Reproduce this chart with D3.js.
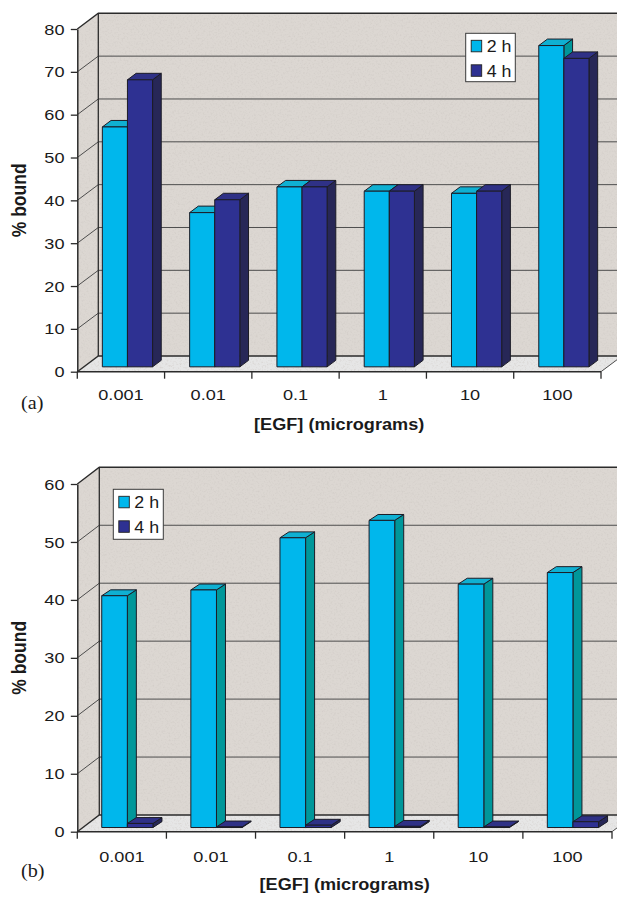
<!DOCTYPE html>
<html>
<head>
<meta charset="utf-8">
<script src="https://cdn.jsdelivr.net/npm/d3@7"></script>
<style>
  html, body { margin: 0; padding: 0; background: #ffffff; }
  svg { display: block; }
</style>
</head>
<body>
<script>
// EGF binding, percent bound at two incubation times
const categories = ["0.001", "0.01", "0.1", "1", "10", "100"];
const seriesNames = ["2 h", "4 h"];

// panel (a)
const boundA2h = [56, 36, 42, 41, 40.5, 75];
const boundA4h = [67, 39, 42, 41, 41, 72];
const ticksA = [0, 10, 20, 30, 40, 50, 60, 70, 80];

// panel (b)
const boundB2h = [40, 41, 50, 53, 42, 44];
const boundB4h = [0.7, 0.1, 0.4, 0.2, 0.1, 1.0];
const ticksB = [0, 10, 20, 30, 40, 50, 60];

const xTitle = "[EGF] (micrograms)";
const yTitle = "% bound";

const W = 617, H = 897;
const SANS = "'Liberation Sans', Arial, Helvetica, sans-serif";
const SERIF = "'Liberation Serif', 'Times New Roman', serif";
const STRETCH = 1.17;

const colors = {
  s2: { front: "#00b7ec", top: "#0fb0d2", side: "#00979a" },
  s4: { front: "#2e3192", top: "#2f3186", side: "#272757" },
  wall: "#dcd7d2",
  floor: "#e6e6e6",
  grid: "#4d4d4d",
  axis: "#2b2b2b",
  edge: "#1c1c26"
};

const svg = d3.select("body").append("svg")
  .attr("width", W).attr("height", H)
  .attr("viewBox", `0 0 ${W} ${H}`);

// paper-like grain for the chart walls
const defs = svg.append("defs");
const grain = defs.append("filter").attr("id", "grain")
  .attr("x", 0).attr("y", 0).attr("width", 1).attr("height", 1);
grain.append("feTurbulence").attr("type", "fractalNoise")
  .attr("baseFrequency", 0.55).attr("numOctaves", 2).attr("seed", 7).attr("result", "noise");
grain.append("feColorMatrix").attr("in", "noise").attr("type", "matrix")
  .attr("values", "0 0 0 0 0.62  0 0 0 0 0.58  0 0 0 0 0.55  1.6 0 0 0 -0.78")
  .attr("result", "spots");
grain.append("feComposite").attr("in", "spots").attr("in2", "SourceGraphic")
  .attr("operator", "in").attr("result", "clipped");
const merge = grain.append("feMerge");
merge.append("feMergeNode").attr("in", "SourceGraphic");
merge.append("feMergeNode").attr("in", "clipped");

function stretchedText(g, x, y, str, opts) {
  const t = g.append("text")
    .attr("transform", `translate(${x},${y}) scale(${opts.sx || STRETCH},1)${opts.rotate ? " rotate(" + opts.rotate + ")" : ""}`)
    .attr("font-family", opts.family || SANS)
    .attr("font-size", opts.size)
    .attr("font-weight", opts.weight || "normal")
    .attr("fill", "#1a1a1a")
    .attr("text-anchor", opts.anchor || "start")
    .text(str);
  if (opts.dy) t.attr("dy", opts.dy);
  return t;
}

const panels = [
  {
    v2: boundA2h, v4: boundA4h, ticks: ticksA, max: 80,
    x0: 77.3, x1: 601, yZero: 371.7, yTop: 29,
    dx: 21, dy: 15.7, f0: 0.31, bdx: 8.7, bdy: 6.5,
    legend: { x: 465.7, y: 33.3, w: 49.6, h: 48.4 },
    labelBase: 400, titleBase: 429.5, tag: "(a)", tagBase: 408.5
  },
  {
    v2: boundB2h, v4: boundB4h, ticks: ticksB, max: 60,
    x0: 77.3, x1: 612, yZero: 831.7, yTop: 484,
    dx: 22, dy: 16.7, f0: 0.25, bdx: 9, bdy: 5.9,
    legend: { x: 113.3, y: 489.3, w: 50, h: 50 },
    labelBase: 862, titleBase: 889.5, tag: "(b)", tagBase: 876.5
  }
];

panels.forEach(p => {
  const g = svg.append("g");
  const y = d3.scaleLinear().domain([0, p.max]).range([p.yZero, p.yTop]);
  const x = d3.scaleBand().domain(categories).range([p.x0, p.x1]).paddingInner(0).paddingOuter(0);
  const xRight = p.x1 + p.dx + 40;

  // back wall
  g.append("path")
    .attr("d", `M${p.x0 + p.dx},${p.yTop - p.dy} L${xRight},${p.yTop - p.dy} L${xRight},${p.yZero - p.dy} L${p.x0 + p.dx},${p.yZero - p.dy} Z`)
    .attr("fill", colors.wall).attr("filter", "url(#grain)");
  // left side wall
  g.append("path")
    .attr("d", `M${p.x0},${p.yZero} L${p.x0},${p.yTop} L${p.x0 + p.dx},${p.yTop - p.dy} L${p.x0 + p.dx},${p.yZero - p.dy} Z`)
    .attr("fill", colors.wall).attr("filter", "url(#grain)");
  // floor
  g.append("path")
    .attr("d", `M${p.x0},${p.yZero} L${p.x1},${p.yZero} L${p.x1 + p.dx},${p.yZero - p.dy} L${p.x0 + p.dx},${p.yZero - p.dy} Z`)
    .attr("fill", colors.floor).attr("filter", "url(#grain)");

  // gridlines: diagonal on side wall, horizontal on back wall
  p.ticks.forEach(t => {
    const yy = y(t);
    g.append("path")
      .attr("d", `M${p.x0},${yy} L${p.x0 + p.dx},${yy - p.dy} L${xRight},${yy - p.dy}`)
      .attr("fill", "none")
      .attr("stroke", t === 0 || t === p.max ? colors.axis : colors.grid)
      .attr("stroke-width", t === 0 || t === p.max ? 1.4 : 1);
  });
  // wall corner edge
  g.append("line")
    .attr("x1", p.x0 + p.dx).attr("x2", p.x0 + p.dx)
    .attr("y1", p.yTop - p.dy).attr("y2", p.yZero - p.dy)
    .attr("stroke", colors.axis).attr("stroke-width", 1.3);
  // floor right edge
  g.append("line")
    .attr("x1", p.x1).attr("y1", p.yZero)
    .attr("x2", p.x1 + p.dx).attr("y2", p.yZero - p.dy)
    .attr("stroke", colors.grid).attr("stroke-width", 1);

  // value axis (front edge of side wall)
  const yAxis = d3.axisLeft(y).tickValues(p.ticks).tickSize(6.5).tickSizeOuter(0).tickFormat("");
  const ya = g.append("g").attr("transform", `translate(${p.x0},0)`).call(yAxis);
  ya.select(".domain").attr("stroke", colors.axis).attr("stroke-width", 1.5);
  ya.selectAll(".tick line").attr("stroke", colors.axis).attr("stroke-width", 1.3);
  p.ticks.forEach(t => {
    stretchedText(g, 64.5, y(t), String(t), { size: 15.5, anchor: "end", dy: "0.36em" });
  });

  // category axis (front edge of floor)
  const bounds = categories.map(c => x(c)).concat([p.x1]);
  g.append("line")
    .attr("x1", p.x0).attr("x2", p.x1).attr("y1", p.yZero).attr("y2", p.yZero)
    .attr("stroke", colors.axis).attr("stroke-width", 1.5);
  bounds.forEach(bx => {
    g.append("line")
      .attr("x1", bx).attr("x2", bx).attr("y1", p.yZero).attr("y2", p.yZero + 7)
      .attr("stroke", colors.axis).attr("stroke-width", 1.3);
  });
  categories.forEach(c => {
    stretchedText(g, x(c) + x.bandwidth() / 2, p.labelBase, c, { size: 15.5, anchor: "middle" });
  });

  // 3-D columns
  const pair = x.bandwidth() * 0.575;
  const barW = pair / 2;
  const shiftX = p.f0 * p.dx, shiftY = p.f0 * p.dy;
  const series = [
    { vals: p.v2, col: colors.s2 },
    { vals: p.v4, col: colors.s4 }
  ];
  categories.forEach((c, i) => {
    series.forEach((s, k) => {
      const v = s.vals[i];
      const bx = x(c) + (x.bandwidth() - pair) / 2 + k * barW + shiftX;
      const yb = y(0) - shiftY;
      const yt = y(v) - shiftY;
      const bar = g.append("g").attr("stroke", colors.edge).attr("stroke-width", 1).attr("stroke-linejoin", "round");
      bar.append("path")
        .attr("d", `M${bx + barW},${yt} L${bx + barW + p.bdx},${yt - p.bdy} L${bx + barW + p.bdx},${yb - p.bdy} L${bx + barW},${yb} Z`)
        .attr("fill", s.col.side);
      bar.append("path")
        .attr("d", `M${bx},${yt} L${bx + p.bdx},${yt - p.bdy} L${bx + barW + p.bdx},${yt - p.bdy} L${bx + barW},${yt} Z`)
        .attr("fill", s.col.top);
      bar.append("rect")
        .attr("x", bx).attr("y", yt).attr("width", barW).attr("height", Math.max(0, yb - yt))
        .attr("fill", s.col.front);
    });
  });

  // legend
  const L = p.legend;
  const lg = g.append("g");
  lg.append("rect").attr("x", L.x).attr("y", L.y).attr("width", L.w).attr("height", L.h)
    .attr("fill", "#ffffff").attr("stroke", "#3a3a3a").attr("stroke-width", 1);
  seriesNames.forEach((name, k) => {
    const col = k === 0 ? colors.s2.front : colors.s4.front;
    lg.append("rect")
      .attr("x", L.x + 5.5).attr("y", L.y + 7 + k * 24.5)
      .attr("width", 10.5).attr("height", 11.5)
      .attr("fill", col).attr("stroke", "#222").attr("stroke-width", 0.9);
    stretchedText(lg, L.x + 21, L.y + 19 + k * 24.3, name, { size: 16.5, sx: 1.08 });
  });

  // axis titles and panel tag
  stretchedText(g, (p.x0 + p.x1) / 2, p.titleBase, xTitle, { size: 16.2, weight: "bold", sx: 1.12, anchor: "middle" });
  stretchedText(g, 25.5, (p.yZero + p.yTop) / 2, yTitle, { size: 17.5, weight: "bold", sx: 1.15, anchor: "middle", rotate: -90 });
  stretchedText(g, 21, p.tagBase, p.tag, { size: 18, family: SERIF, sx: 1.12 });
});
</script>
</body>
</html>
